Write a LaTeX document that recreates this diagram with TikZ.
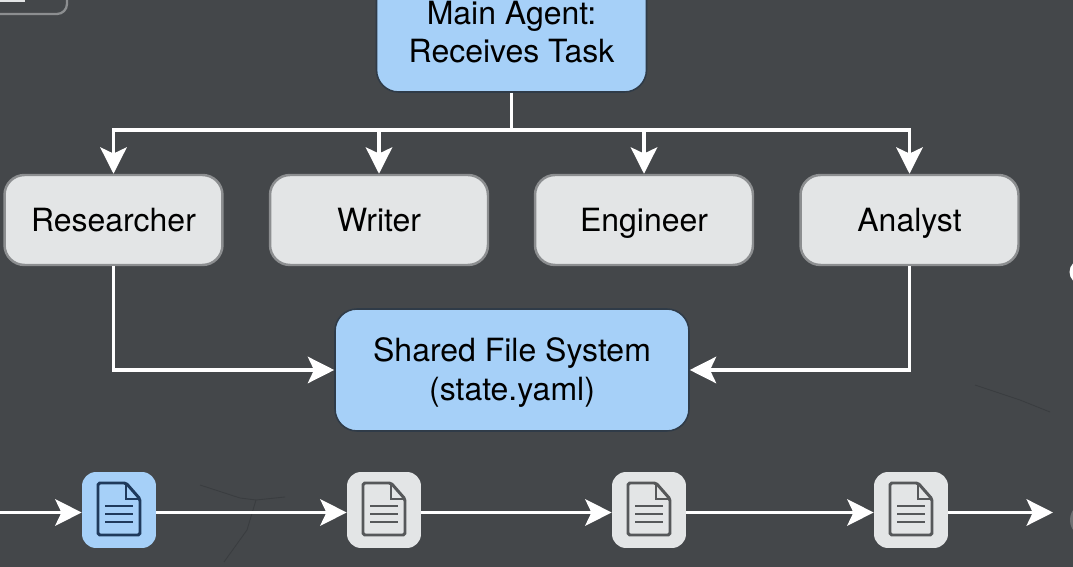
\documentclass[tikz,border=0pt]{standalone}
\usepackage{xcolor}
\usepackage{fontspec}
\setmainfont{TeX Gyre Heros}
\usetikzlibrary{positioning, arrows.meta}

\definecolor{bgslate}{HTML}{44474A}
\definecolor{crackdark}{HTML}{3A3D40}
\definecolor{agentblue}{HTML}{A6D0F8}
\definecolor{edgedark}{HTML}{2F3B48}
\definecolor{workergray}{HTML}{E3E5E6}
\definecolor{edgegray}{HTML}{8C8E90}
\definecolor{inkblue}{HTML}{1F3A5C}
\definecolor{inkgray}{HTML}{56585A}

\begin{document}
\begin{tikzpicture}[
    x=0.02cm, y=-0.02cm,
    agent/.style={draw=edgedark, line width=0.9pt, fill=agentblue, rectangle, rounded corners=0.44cm, align=center, text=black, font=\fontsize{18.2}{22}\selectfont},
    worker/.style={draw=edgegray, line width=1.4pt, fill=workergray, rectangle, rounded corners=0.4cm, minimum width=4.36cm, minimum height=1.8cm, text=black, text height=17pt, text depth=4pt, font=\fontsize{18.2}{22}\selectfont},
    docbox/.style={rectangle, rounded corners=0.28cm, minimum width=1.48cm, minimum height=1.52cm},
    link/.style={draw=white, line width=2.2pt},
    arr/.style={link, -{Stealth[length=15pt, width=15pt, inset=3.5pt]}},
    crack/.style={draw=crackdark, line width=0.5pt},
    docicon/.pic={
        \draw[pic actions, line width=1.7pt, rounded corners=1pt] (-21,-27) -- (7,-27) -- (21,-11) -- (21,25) -- (-21,25) -- cycle;
        \draw[pic actions, line width=1.3pt] (7,-27) -- (7,-11) -- (21,-11);
        \draw[pic actions, line width=1.6pt] (-14,-4) -- (14,-4) (-14,4) -- (14,4) (-14,12) -- (14,12);
    },
]
\fill[bgslate] (0,0) rectangle (1073,567);
\clip (0,0) rectangle (1073,567);

% wall texture
\draw[crack] (200,485) -- (240,498) -- (256,500) -- (285,497);
\draw[crack] (256,500) -- (247,530) -- (224,562);
\draw[crack] (975,385) -- (1020,400) -- (1050,412);

% boxes
\node[agent, minimum width=5.4cm, minimum height=2.4cm] (main) at (511.5,32) {Main Agent:\\Receives Task};
\node[worker] (researcher) at (113.5,220) {Researcher};
\node[worker] (writer) at (379,220) {Writer};
\node[worker] (engineer) at (644,220) {Engineer};
\node[worker] (analyst) at (909.5,220) {Analyst};
\node[agent, minimum width=7.08cm, minimum height=2.44cm] (shared) at (512,370) {\rule{0pt}{16.5pt}Shared File System\\(state.yaml)};

% file row
\node[docbox, fill=agentblue] (doc1) at (119,510) {};
\node[docbox, fill=workergray] (doc2) at (384,510) {};
\node[docbox, fill=workergray] (doc3) at (649,510) {};
\node[docbox, fill=workergray] (doc4) at (911,510) {};
\pic[draw=inkblue] at (doc1) {docicon};
\pic[draw=inkgray] at (doc2) {docicon};
\pic[draw=inkgray] at (doc3) {docicon};
\pic[draw=inkgray] at (doc4) {docicon};

% cut off at the picture edges
\node[draw=edgegray, line width=1.3pt, rounded corners=0.2cm, minimum width=2.2cm, minimum height=1cm] (stub) at (12,-11) {};
\fill[workergray] (0,0) rectangle (25,2);
\node[circle, fill=white, minimum size=0.5cm, inner sep=0pt] (edgeA) at (1082,272) {};
\node[circle, fill=inkgray!85!white, minimum size=0.72cm, inner sep=0pt] (edgeB) at (1088,520) {};

\coordinate (bus) at (511.5,130);
\coordinate (flowin) at (0,512.5);
\coordinate (flowout) at (1053,512.5);

\draw[link] (main.south) -- (bus);
\draw[arr] (bus) -| (researcher.north);
\draw[arr] (bus) -| (writer.north);
\draw[arr] (bus) -| (engineer.north);
\draw[arr] (bus) -| (analyst.north);

\draw[arr] (researcher.south) |- (shared.west);
\draw[arr] (analyst.south) |- (shared.east);

\draw[arr] (flowin) -- (flowin -| doc1.west);
\draw[arr] (flowin -| doc1.east) -- (flowin -| doc2.west);
\draw[arr] (flowin -| doc2.east) -- (flowin -| doc3.west);
\draw[arr] (flowin -| doc3.east) -- (flowin -| doc4.west);
\draw[arr] (flowin -| doc4.east) -- (flowout);
\end{tikzpicture}
\end{document}
